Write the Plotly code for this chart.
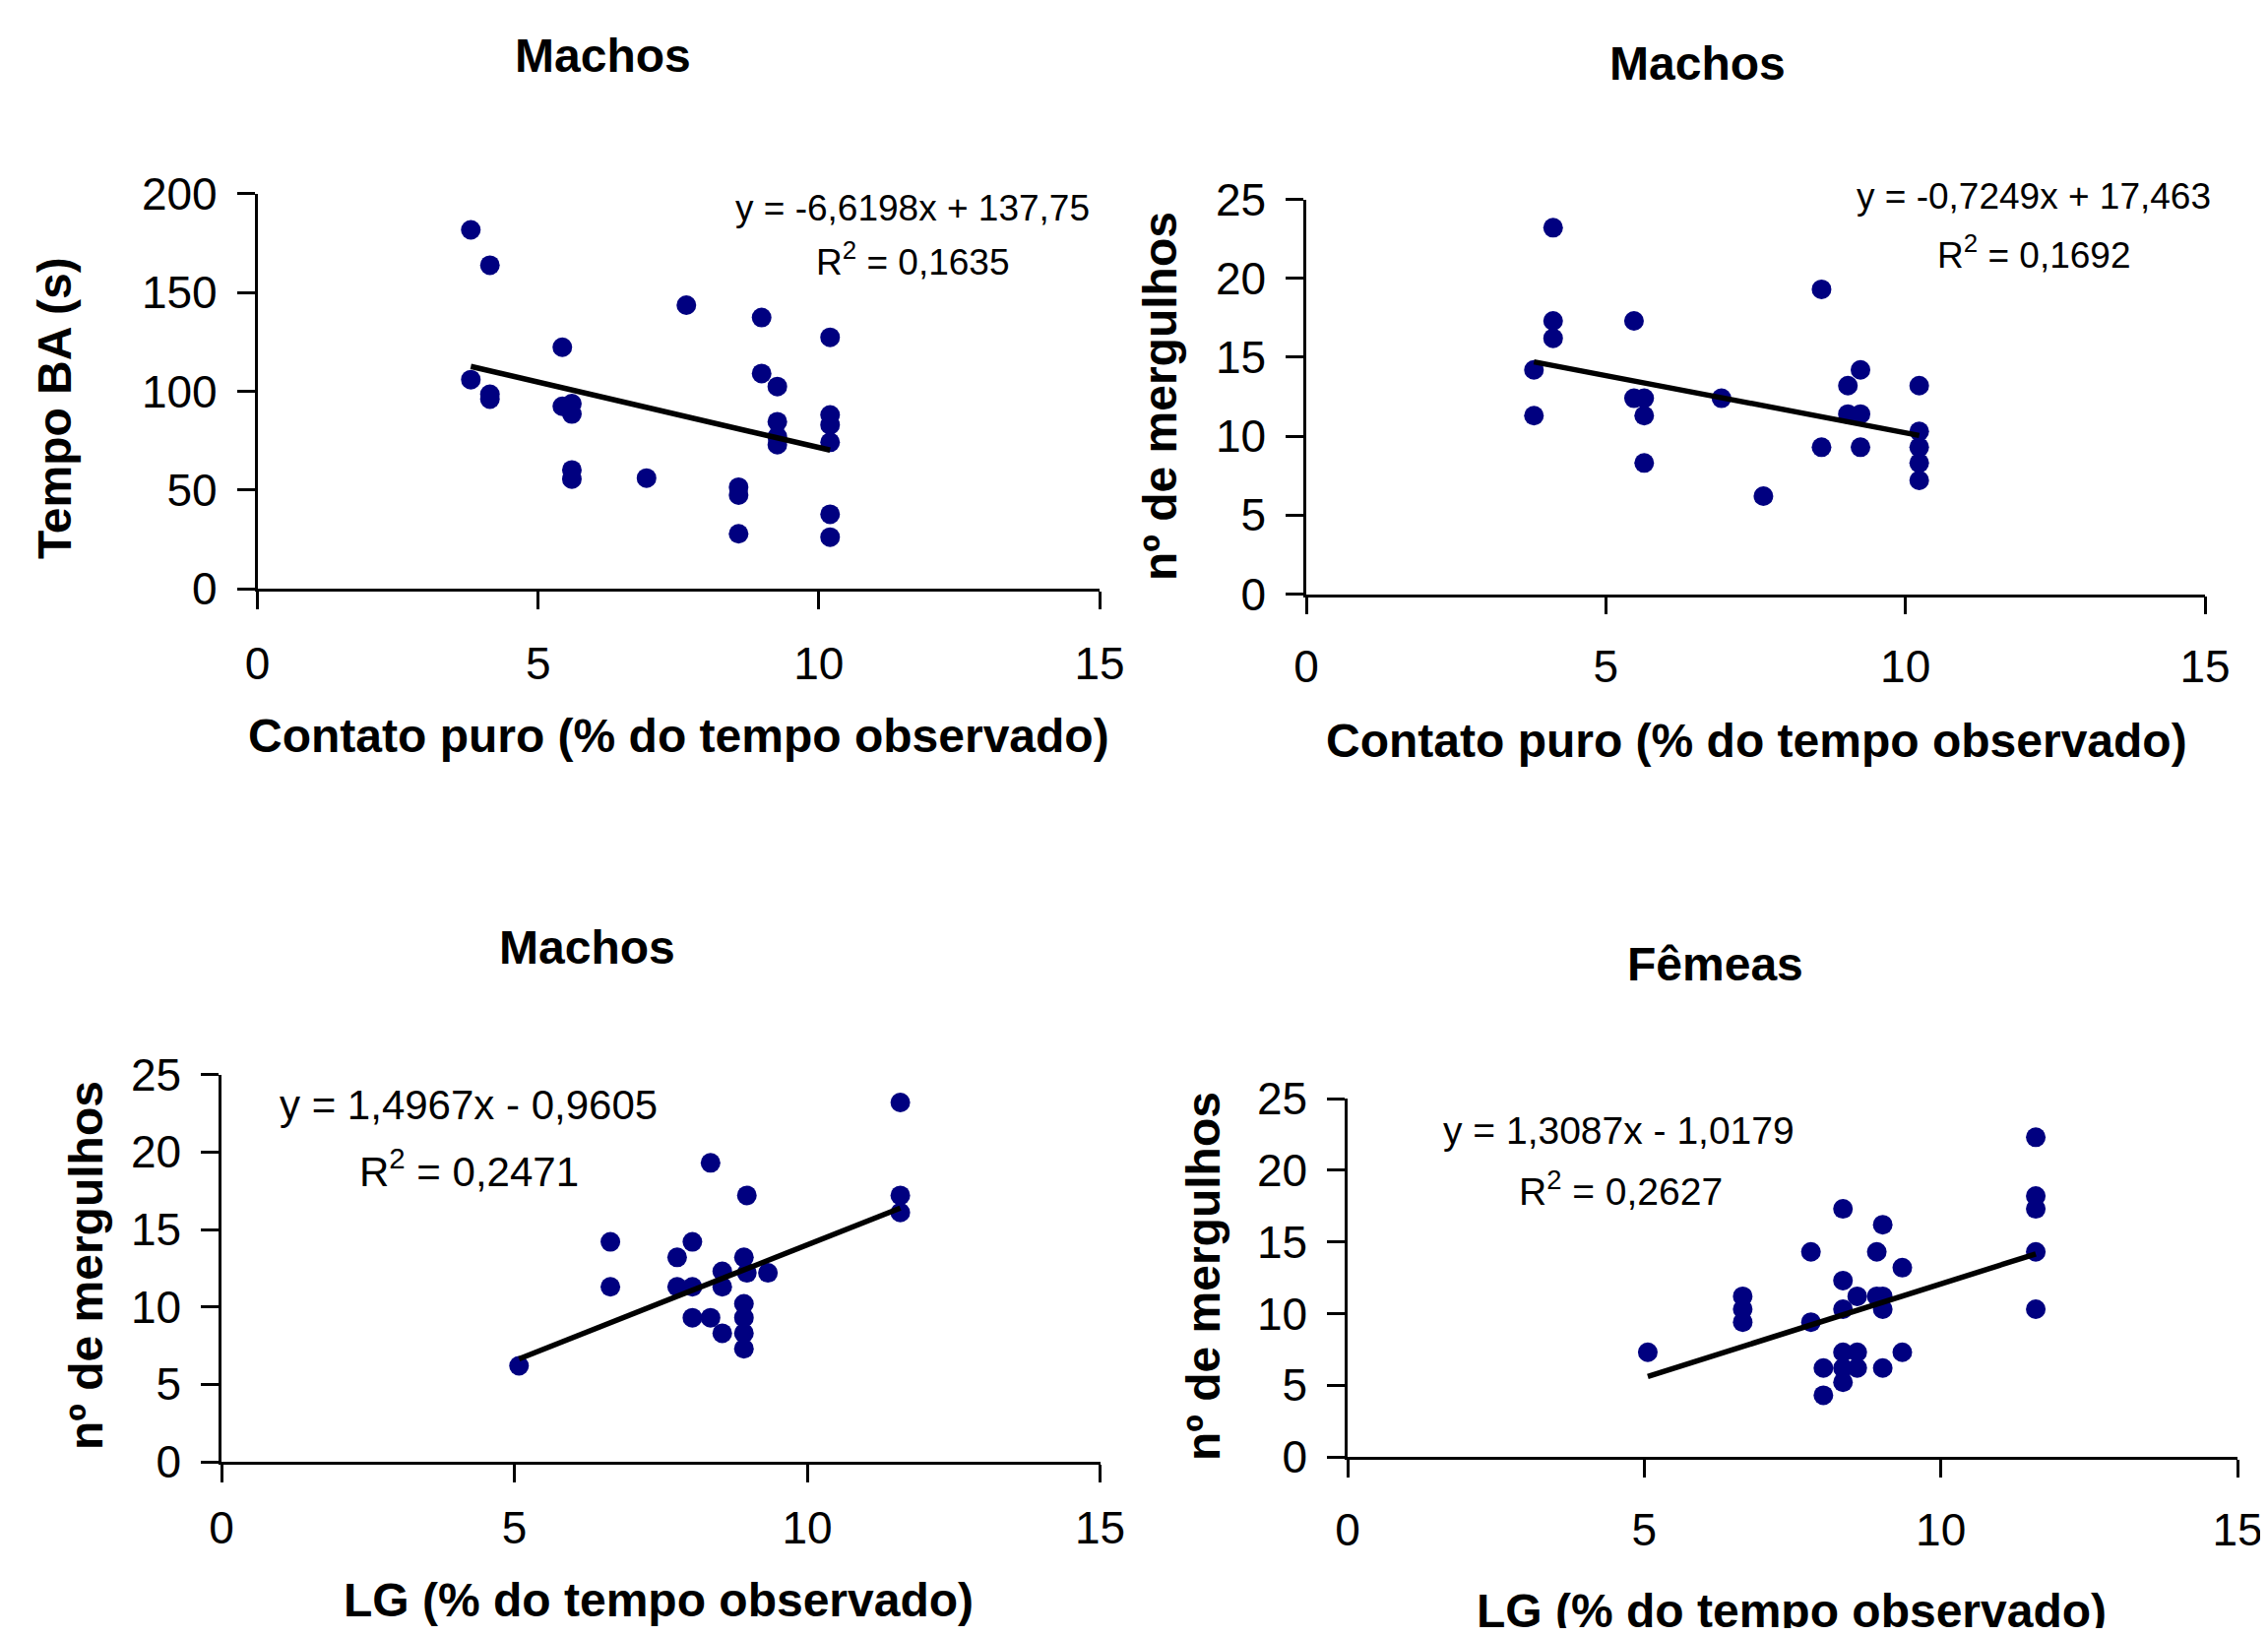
import plotly.graph_objects as go

# ---------------- data ----------------
# Panel 1: Machos - Contato puro vs Tempo BA (s)
p1_x = [3.80, 4.14, 7.64, 8.98, 10.20, 5.43, 3.80, 4.14, 4.14, 5.43, 5.60, 5.60,
        8.98, 9.26, 9.26, 9.26, 9.26, 10.20, 10.20, 10.20, 5.60, 5.60, 6.93,
        8.57, 8.57, 8.57, 10.20, 10.20]
p1_y = [181.7, 163.8, 143.6, 137.3, 127.3, 122.3, 105.9, 98.5, 96.0, 92.4, 93.8, 88.5,
        109.0, 102.4, 84.6, 77.0, 73.0, 88.0, 83.0, 74.2, 60.2, 55.6, 56.1,
        51.5, 47.5, 27.9, 37.8, 26.2]
p1_coef = [-6.6198, 137.75]

# Panel 2: Machos - Contato puro vs nº de mergulhos
p2_x = [4.12, 8.60, 4.12, 5.47, 4.12, 3.80, 9.25, 9.04, 10.23, 5.47, 5.64, 6.93,
        3.80, 5.64, 9.04, 9.25, 10.23, 8.60, 9.25, 10.23, 5.64, 10.23, 10.23, 7.63]
p2_y = [23.2, 19.3, 17.3, 17.3, 16.2, 14.2, 14.2, 13.2, 13.2, 12.4, 12.4, 12.4,
        11.3, 11.3, 11.4, 11.4, 10.3, 9.3, 9.3, 9.3, 8.3, 8.3, 7.2, 6.2]
p2_coef = [-0.7249, 17.463]

# Panel 3: Machos - LG vs nº de mergulhos
p3_x = [11.59, 8.35, 8.97, 11.59, 11.59, 6.64, 8.04, 7.78, 8.92, 8.55, 8.97, 9.33,
        6.64, 7.78, 8.04, 8.55, 8.92, 8.04, 8.35, 8.92, 8.55, 8.92, 8.92, 5.08]
p3_y = [23.2, 19.3, 17.2, 17.2, 16.1, 14.2, 14.2, 13.2, 13.2, 12.3, 12.2, 12.2,
        11.3, 11.3, 11.3, 11.3, 10.2, 9.3, 9.3, 9.3, 8.3, 8.3, 7.3, 6.2]
p3_coef = [1.4967, -0.9605]

# Panel 4: Fêmeas - LG vs nº de mergulhos
p4_x = [11.60, 11.60, 11.60, 8.35, 9.02, 7.81, 8.92, 11.60, 9.35, 8.35, 8.59, 8.92,
        9.02, 6.66, 6.66, 8.35, 9.02, 11.60, 6.66, 7.81, 5.06, 8.35, 8.59, 9.35,
        8.02, 8.35, 8.59, 9.02, 8.35, 8.02]
p4_y = [22.3, 18.2, 17.3, 17.3, 16.2, 14.3, 14.3, 14.3, 13.2, 12.3, 11.2, 11.2,
        11.2, 11.2, 10.3, 10.3, 10.3, 10.3, 9.4, 9.4, 7.3, 7.3, 7.3, 7.3,
        6.2, 6.2, 6.2, 6.2, 5.2, 4.3]
p4_coef = [1.3087, -1.0179]

titles = ["Machos", "Machos", "Machos", "Fêmeas"]
y_titles = ["Tempo BA (s)", "nº de mergulhos", "nº de mergulhos", "nº de mergulhos"]
x_titles = ["Contato puro (% do tempo observado)", "Contato puro (% do tempo observado)",
            "LG (% do tempo observado)", "LG (% do tempo observado)"]
eq_texts = ["y = -6,6198x + 137,75", "y = -0,7249x + 17,463",
            "y = 1,4967x - 0,9605", "y = 1,3087x - 1,0179"]
r2_texts = ["R<sup>2</sup> = 0,1635", "R<sup>2</sup> = 0,1692",
            "R<sup>2</sup> = 0,2471", "R<sup>2</sup> = 0,2627"]
x_ticks = [0, 5, 10, 15]
y_ranges = [[0, 200], [0, 25], [0, 25], [0, 25]]
y_dticks = [50, 5, 5, 5]

# ---------------- layout geometry (pixels in the 2304x1662 picture) ----------------
OFF = 8                      # page body margin
W, H = 2304 - OFF, 1662 - 2 * OFF
FONT = "Liberation Sans, Arial, sans-serif"
NAVY = "#000080"

# plot boxes: (x_left, x_right, y_top, y_bottom)
boxes = [(261.6, 1117, 196.7, 598.3),
         (1327, 2240, 202.5, 603.5),
         (225, 1117.5, 1091.7, 1485),
         (1369, 2273, 1116, 1480)]
title_pos = [(612, 56), (1724, 65), (597, 962), (1742, 979)]
ytitle_pos = [(55, 415), (1178, 403), (87, 1286), (1222, 1297)]
xtitle_pos = [(689, 747), (1784, 752), (669, 1625), (1820, 1636)]
eq_pos = [((927, 212), (927, 263)), ((2066, 199), (2066, 257)),
          ((476, 1122), (477, 1187)), ((1644, 1148), (1646, 1207))]
eq_size = [37, 37, 42, 39]
x_standoff = [16, 14, 7, 14]
y_standoff = 11


def px(x):
    return (x - OFF) / W


def py(y):
    return 1 - (y - OFF) / H


data = [(p1_x, p1_y, p1_coef), (p2_x, p2_y, p2_coef),
        (p3_x, p3_y, p3_coef), (p4_x, p4_y, p4_coef)]

fig = go.Figure()
annotations = []
layout_axes = {}

for i, (xs, ys, coef) in enumerate(data):
    n = i + 1
    xa = "x" if n == 1 else f"x{n}"
    ya = "y" if n == 1 else f"y{n}"
    fig.add_trace(go.Scatter(x=xs, y=ys, mode="markers", xaxis=xa, yaxis=ya,
                             marker=dict(color=NAVY, size=20, line=dict(width=0)),
                             showlegend=False, hoverinfo="skip"))
    x0, x1 = min(xs), max(xs)
    fig.add_trace(go.Scatter(x=[x0, x1], y=[coef[0] * x0 + coef[1], coef[0] * x1 + coef[1]],
                             mode="lines", xaxis=xa, yaxis=ya,
                             line=dict(color="black", width=5.5),
                             showlegend=False, hoverinfo="skip"))
    xl, xr, yt, yb = boxes[i]
    common = dict(showline=True, linecolor="black", linewidth=2.5, ticks="outside",
                  ticklen=18, tickwidth=2.5, tickcolor="black", showgrid=False,
                  zeroline=False, automargin=False, ticklabeloverflow="allow",
                  tickfont=dict(size=46, color="black", family=FONT))
    layout_axes["xaxis" if n == 1 else f"xaxis{n}"] = dict(
        domain=[px(xl), px(xr)], range=[0, 15], tickvals=x_ticks,
        anchor=ya, ticklabelstandoff=x_standoff[i], **common)
    layout_axes["yaxis" if n == 1 else f"yaxis{n}"] = dict(
        domain=[py(yb), py(yt)], range=y_ranges[i], dtick=y_dticks[i], tick0=0,
        anchor=xa, ticklabelstandoff=y_standoff, **common)

    tx, ty = title_pos[i]
    annotations.append(dict(text=f"<b>{titles[i]}</b>", x=px(tx), y=py(ty), xref="paper",
                            yref="paper", showarrow=False, xanchor="center", yanchor="middle",
                            font=dict(size=48, family=FONT, color="black")))
    tx, ty = ytitle_pos[i]
    annotations.append(dict(text=f"<b>{y_titles[i]}</b>", x=px(tx), y=py(ty), xref="paper",
                            yref="paper", showarrow=False, xanchor="center", yanchor="middle",
                            textangle=-90, font=dict(size=48, family=FONT, color="black")))
    tx, ty = xtitle_pos[i]
    annotations.append(dict(text=f"<b>{x_titles[i]}</b>", x=px(tx), y=py(ty), xref="paper",
                            yref="paper", showarrow=False, xanchor="center", yanchor="middle",
                            font=dict(size=48, family=FONT, color="black")))
    (ex, ey), (rx, ry) = eq_pos[i]
    annotations.append(dict(text=eq_texts[i], x=px(ex), y=py(ey), xref="paper",
                            yref="paper", showarrow=False, xanchor="center", yanchor="middle",
                            font=dict(size=eq_size[i], family=FONT, color="black")))
    annotations.append(dict(text=r2_texts[i], x=px(rx), y=py(ry), xref="paper",
                            yref="paper", showarrow=False, xanchor="center", yanchor="middle",
                            font=dict(size=eq_size[i], family=FONT, color="black")))

fig.update_layout(template="none", width=W, height=H,
                  margin=dict(l=0, r=0, t=0, b=0, pad=0, autoexpand=False),
                  paper_bgcolor="white", plot_bgcolor="white",
                  font=dict(family=FONT, color="black"),
                  annotations=annotations, **layout_axes)

fig.write_html("out.html")
